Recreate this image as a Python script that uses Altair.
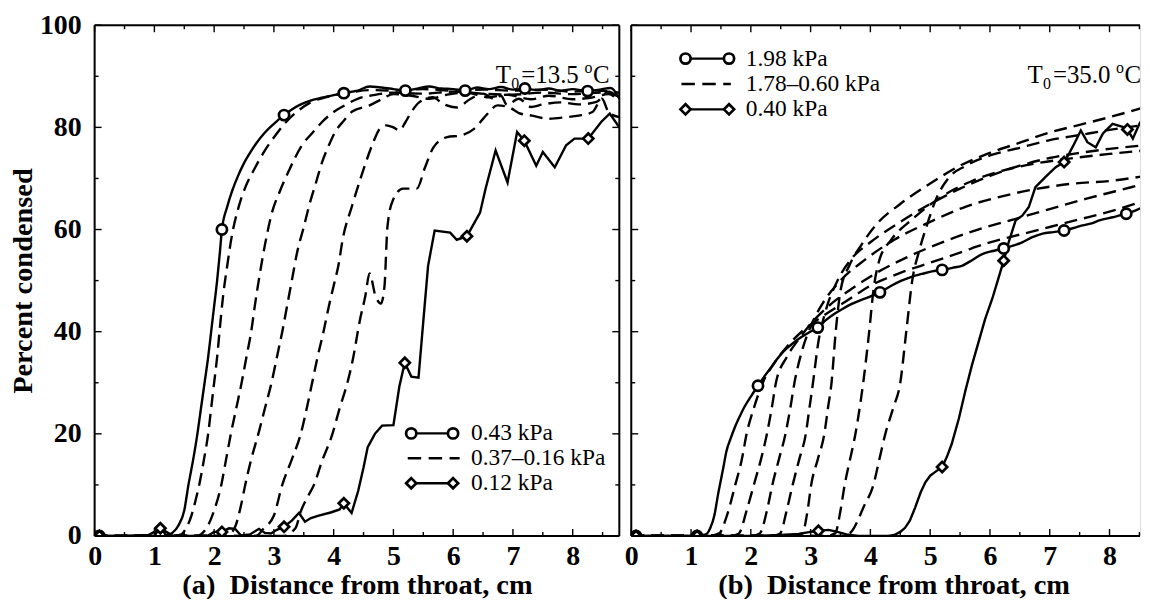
import altair as alt
import pandas as pd

FONT = "Liberation Serif"

# ---------------- data ----------------
X_LABELS = [0, 1, 2, 3, 4, 5, 6, 7, 8]
Y_LABELS = [0, 20, 40, 60, 80, 100]
Y_MINOR = [10, 30, 50, 70, 90]
X_MINOR = [0.5, 1.5, 2.5, 3.5, 4.5, 5.5, 6.5, 7.5, 8.5]

# Panel (a): T0 = 13.5 C
A_C_X = [0, 0.5, 1.0, 1.2, 1.3, 1.4, 1.5, 1.57, 1.65, 1.72, 1.78, 1.84, 1.9, 1.95, 2.0, 2.05, 2.1, 2.13,
         2.22, 2.3, 2.4, 2.5, 2.6, 2.7, 2.85, 3.0, 3.17, 3.3, 3.45, 3.6, 3.8, 4.0, 4.17,
         4.4, 4.6, 4.8, 5.0, 5.2, 5.4, 5.6, 5.8, 6.0, 6.2, 6.4, 6.6, 6.8, 7.0, 7.2, 7.4, 7.6, 7.8, 8.0,
         8.25, 8.45, 8.64, 8.78]
A_C_Y = [0, 0, 0, 0.1, 0.6, 2.0, 5.0, 10, 15, 20, 25, 30, 35, 40, 45, 50, 56, 60,
         64.5, 67.5, 70.5, 73, 75, 76.8, 79, 80.7, 82.4, 83.5, 84.5, 85.2, 85.8, 86.3, 86.7,
         87.2, 88, 87.8, 87.5, 87.2, 87.6, 88, 87.6, 87.5, 87.2, 87.8, 87.5, 87.9, 87.4, 87.6, 87.3, 87.6, 87.2, 87.5,
         87.1, 87.4, 87.7, 85.6]
A_D_X = [0, 0.5, 0.9, 1.0, 1.1, 1.2, 1.3, 1.6, 1.9, 2.0, 2.13, 2.25, 2.35, 2.45, 2.6, 2.75, 2.85, 2.95, 3.05, 3.17,
         3.3, 3.42, 3.52, 3.62, 3.75, 3.95, 4.1, 4.17, 4.3, 4.41, 4.5, 4.57, 4.69, 4.81, 5.0, 5.1, 5.19, 5.3, 5.42, 5.5,
         5.58, 5.69, 5.95, 6.06, 6.23, 6.45, 6.54, 6.71, 6.91, 7.07, 7.19, 7.39, 7.5, 7.7, 7.89, 8.03, 8.26, 8.48, 8.62, 8.78]
A_D_Y = [0, 0, 0.2, 0.8, 1.5, 0.8, 0.1, 0, 0.1, 0.8, 0.8, 1.5, 1.4, 0.1, 0.3, 1.4, 0.6, 0.5, 1.2, 1.8,
         3.0, 4.5, 2.8, 3.5, 4.0, 4.6, 5.2, 6.4, 4.5, 8.8, 13.4, 17.4, 20, 21.6, 21.7, 29.3, 33.9, 31.2, 31, 42,
         52.9, 59.8, 59.4, 58, 58.7, 63.3, 67.9, 75.5, 69.2, 79.1, 77.4, 72.5, 75.2, 72.2, 76.5, 77.8, 77.8, 81.1, 82.7, 80]
A_D1_X = [0, 1.3, 1.45, 1.53, 1.62, 1.69, 1.75, 1.83, 1.9, 1.95, 2.0, 2.05, 2.09, 2.15, 2.22, 2.3, 2.4, 2.53, 2.68, 2.85,
          3.03, 3.2, 3.4, 3.6, 3.9, 4.25, 4.6, 5.0, 5.5, 6.0, 6.5, 7.0, 7.5, 8.0, 8.4, 8.78]
A_D1_Y = [0, 0, 0.3, 1.5, 4, 7, 10, 15, 20, 25, 30, 35, 40, 47, 53, 59, 64, 68.5, 72, 75.5,
          78.5, 81, 83.2, 84.8, 86, 86.8, 87.3, 87.2, 87.5, 87.2, 87.4, 87.2, 87.4, 87, 87.2, 86.8]
A_D2_X = [0, 1.7, 1.87, 2.0, 2.12, 2.2, 2.28, 2.37, 2.46, 2.54, 2.62, 2.68, 2.76, 2.85, 2.97, 3.1, 3.25, 3.47, 3.65, 3.81,
          4.0, 4.2, 4.4, 4.66, 5.0, 5.5, 6.0, 6.5, 7.0, 7.5, 8.0, 8.5, 8.78]
A_D2_Y = [0, 0, 1.5, 5, 10, 15, 20, 25, 30, 35, 40, 45, 51, 57, 63.4, 67.5, 71.5, 76.5, 79, 81.1,
          83, 84.4, 85.6, 86.3, 86.8, 86.6, 87, 86.6, 86.4, 86.8, 86.5, 86.8, 86]
A_D3_X = [0, 2.2, 2.34, 2.45, 2.52, 2.62, 2.74, 2.85, 2.96, 3.05, 3.14, 3.22, 3.3, 3.39, 3.5, 3.59, 3.7, 3.81, 3.92, 4.03,
          4.17, 4.31, 4.6, 4.8, 5.0, 5.3, 5.6, 5.9, 6.2, 6.6, 6.9, 7.3, 7.6, 8.0, 8.3, 8.6, 8.78]
A_D3_Y = [0, 0, 1.5, 6, 10, 15, 20, 25, 30, 35, 40, 45, 50, 55.6, 60.5, 64.7, 69, 73.3, 76.5, 79.2,
          81.3, 83.1, 84.3, 85.5, 86.5, 86.2, 85.6, 86.4, 86.8, 85.9, 86.4, 85.5, 86.2, 85.5, 85.8, 86.5, 85]
A_D4_X = [0, 2.7, 2.83, 3.0, 3.14, 3.3, 3.45, 3.55, 3.64, 3.73, 3.83, 3.92, 4.0, 4.08, 4.15, 4.31, 4.45, 4.54, 4.66, 4.77,
          4.88, 5.0, 5.1, 5.2, 5.3, 5.43, 5.66, 5.83, 6.06, 6.28, 6.5, 6.7, 6.8, 6.9, 7.1, 7.3, 7.5, 7.8, 8.1, 8.4,
          8.6, 8.78]
A_D4_Y = [0, 0, 1.5, 4, 10, 15, 20, 25, 30, 35, 40, 45, 49, 53, 58, 64.7, 70, 73.2, 77, 79.7,
          80.4, 80, 79.4, 81, 83, 84.9, 85.9, 84.6, 83.9, 85.5, 86.6, 85.5, 86.2, 84.4, 85.6, 84, 84.5, 84.9, 84.5, 85,
          87, 85.5]
A_D5_X = [0, 3.15, 3.36, 3.45, 3.58, 3.67, 3.8, 3.98, 4.1, 4.23, 4.32, 4.44, 4.53, 4.6, 4.7, 4.79, 4.85, 4.9, 4.99, 5.16,
          5.39, 5.53, 5.67, 5.9, 6.12, 6.35, 6.57, 6.74, 6.94, 7.1, 7.32, 7.6, 7.89, 8.1, 8.33, 8.49, 8.6, 8.78]
A_D5_Y = [0, 0, 1.5, 4.8, 8, 10, 14.5, 20, 25, 30, 34.5, 42.3, 47, 51.4, 47, 45.5, 48.8, 60.5, 65.7, 68,
          68, 72.2, 76.1, 78.1, 78.4, 79.7, 82.6, 84.3, 83.9, 82.8, 82.3, 81.7, 82, 82.3, 83, 85.6, 83, 82]
A_CM_X = [0.08, 1.1, 2.13, 3.17, 4.17, 5.2, 6.2, 7.2, 8.25]
A_CM_Y = [0, 0, 60, 82.4, 86.7, 87.2, 87.2, 87.6, 87.1]
A_DM_X = [0.08, 1.1, 2.13, 3.17, 4.17, 5.19, 6.23, 7.19, 8.26]
A_DM_Y = [0, 1.5, 0.8, 1.8, 6.4, 33.9, 58.7, 77.4, 77.8]

# Panel (b): T0 = 35.0 C
B_C_X = [0, 0.5, 1.0, 1.1, 1.25, 1.32, 1.39, 1.45, 1.5, 1.55, 1.59, 1.66, 1.73, 1.81, 1.89, 2.0, 2.12, 2.23, 2.34, 2.45,
         2.56, 2.7, 2.84, 2.98, 3.12, 3.26, 3.4, 3.54, 3.68, 3.82, 3.96, 4.16, 4.35, 4.52, 4.7, 4.86, 5.03, 5.2, 5.37, 5.53,
         5.7, 5.87, 6.05, 6.23, 6.4, 6.54, 6.71, 6.88, 7.06, 7.24, 7.4, 7.55, 7.7, 7.83, 8.05, 8.28, 8.45, 8.61]
B_C_Y = [0, 0, 0, 0, 0.3, 1.5, 4, 8, 11, 14, 16.5, 19, 21.2, 23.3, 25.2, 27.3, 29.4, 31.3, 33, 34.8,
         36.3, 37.7, 38.9, 39.9, 40.8, 42.3, 43.5, 44.5, 45.4, 46.1, 46.7, 47.7, 49, 50, 50.8, 51.3, 51.8, 52.1, 52.5, 52.9,
         54, 55.2, 55.8, 56.3, 56.9, 57.5, 58.5, 59.2, 59.5, 59.8, 60.3, 60.8, 61.2, 61.8, 62.4, 63.1, 63.8, 64.7]
B_D_X = [0, 1.0, 1.1, 1.5, 2.0, 2.5, 2.8, 3.0, 3.13, 3.3, 3.45, 3.6, 3.8, 4.0, 4.3, 4.4, 4.5, 4.58, 4.66, 4.75,
         4.84, 4.92, 5.0, 5.08, 5.2, 5.28, 5.36, 5.48, 5.59, 5.7, 5.81, 5.92, 6.04, 6.13, 6.23, 6.32, 6.43, 6.54, 6.65, 6.76,
         6.93, 7.1, 7.24, 7.33, 7.41, 7.52, 7.63, 7.77, 7.89, 8.05, 8.22, 8.3, 8.39, 8.5, 8.64]
B_D_Y = [0, 0, 0, 0, 0, 0.2, 0.4, 0.8, 1, 1.2, 0.8, 0.3, 0, 0, 0, 0.2, 0.8, 1.6, 3, 5.6,
         8.5, 10.5, 11.8, 12.5, 13.5, 15.5, 18, 23, 28.5, 33.5, 38, 42.5, 46.5, 50, 53.9, 57.8, 61.8, 62.7, 64.4, 68.3,
         70.3, 72.2, 73.2, 75, 76.8, 79.4, 77.1, 76.1, 78.8, 80.7, 80.1, 79.6, 77.8, 80.7, 83.3]
B_R1_X = [0, 1.3, 1.47, 1.6, 1.74, 1.85, 1.93, 2.05, 2.2, 2.4, 2.6, 2.9, 3.2, 3.6, 4.0, 4.5, 5.0, 5.5, 6.0, 6.5, 7.0, 7.5, 8.0, 8.6]
B_R1_Y = [0, 0, 0.5, 4, 10, 15, 20, 25, 30, 34, 37, 40.5, 43, 46, 49, 51.5, 53.5, 55.5, 57.5, 59, 60.5, 62, 63.5, 65.7]
B_R2_X = [0, 1.65, 1.8, 1.93, 2.05, 2.17, 2.27, 2.35, 2.42, 2.6, 2.8, 3.0, 3.3, 3.7, 4.1, 4.6, 5.2, 5.8, 6.4, 7.0, 7.6, 8.1, 8.6]
B_R2_Y = [0, 0, 0.5, 5, 10, 15, 20, 25, 30, 35, 38.5, 41.5, 45, 48.5, 51.5, 54.5, 57.5, 60, 62, 64, 66, 67.5, 69]
B_R3_X = [0, 2.0, 2.15, 2.27, 2.36, 2.47, 2.58, 2.66, 2.73, 2.85, 3.0, 3.2, 3.5, 3.9, 4.4, 5.0, 5.6, 6.2, 6.8, 7.4, 8.0, 8.6]
B_R3_Y = [0, 0, 0.5, 5, 10, 15, 20, 25, 30, 36, 41, 45.5, 50, 54, 58, 61.5, 64.5, 66.5, 68, 69, 69.5, 70.5]
B_R4_X = [0, 2.35, 2.49, 2.6, 2.7, 2.81, 2.92, 2.98, 3.04, 3.13, 3.25, 3.45, 3.7, 4.0, 4.5, 5.0, 5.5, 6.0, 6.5, 7.0, 7.5, 8.0, 8.6]
B_R4_Y = [0, 0, 0.5, 5, 10, 15, 20, 25, 30, 38, 44, 50, 54.5, 57.5, 61.5, 65, 68, 70.5, 72.5, 74, 75, 75.8, 76.5]
B_R5_X = [0, 2.7, 2.86, 2.95, 3.01, 3.12, 3.23, 3.29, 3.35, 3.42, 3.5, 3.65, 3.85, 4.1, 4.5, 5.0, 5.5, 6.0, 6.5, 7.0, 7.5, 8.0, 8.6]
B_R5_Y = [0, 0, 0.5, 5, 10, 15, 20, 25, 30, 40, 48, 53, 57, 61, 65, 69, 72.5, 75, 77, 79, 80.5, 82, 84]
B_R6_X = [0, 3.25, 3.41, 3.5, 3.57, 3.66, 3.75, 3.82, 3.88, 3.98, 4.05, 4.15, 4.35, 4.7, 5.2, 5.7, 6.2, 6.8, 7.4, 8.0, 8.6]
B_R6_Y = [0, 0, 0.5, 5, 10, 15, 20, 25, 30, 40, 48, 54, 58, 62, 66.5, 69.5, 71.5, 73, 74, 74.8, 75.5]
B_R7_X = [0, 3.5, 3.65, 3.9, 4.05, 4.15, 4.25, 4.38, 4.5, 4.6, 4.7, 4.82, 4.95, 5.1, 5.3, 5.6, 6.0, 6.5, 7.0, 7.5, 8.0, 8.6]
B_R7_Y = [0, 0, 0.5, 6, 10, 15, 20, 25, 30, 40, 50, 56, 61, 66, 70, 72.5, 74.5, 76, 77.5, 78.5, 79.5, 80.5]
B_CM_X = [0.08, 1.1, 2.12, 3.12, 4.16, 5.2, 6.23, 7.24, 8.28]
B_CM_Y = [0, 0, 29.4, 40.8, 47.7, 52.1, 56.3, 59.8, 63.1]
B_DM_X = [0.08, 1.1, 3.13, 5.2, 6.23, 7.24, 8.3]
B_DM_Y = [0, 0, 1, 13.5, 53.9, 73.2, 79.6]

A_LEGEND = ["0.43 kPa", "0.37\u20130.16 kPa", "0.12 kPa"]
B_LEGEND = ["1.98 kPa", "1.78\u20130.60 kPa", "0.40 kPa"]
A_T0 = "=13.5"
B_T0 = "=35.0"
A_TITLE = "(a)\u00a0 Distance from throat, cm"
B_TITLE = "(b)\u00a0 Distance from throat, cm"
Y_TITLE = "Percent condensed"


def frame(pairs):
    rows = []
    for name, xs, ys in pairs:
        if len(xs) != len(ys):
            raise ValueError(f"length mismatch in {name}: {len(xs)} vs {len(ys)}")
        for a, b in zip(xs, ys):
            rows.append({"s": name, "x": a, "y": b})
    return pd.DataFrame(rows)


# ---------------- layout / style ----------------
H = 513
W_L, W_R = 527, 511
XMAX_L = 8.78
XMAX_R = 8.51
ONE = pd.DataFrame({"k": [0]})
LW = 2.4
DASH = [13, 7]
MSIZE = 105
MSW = 2.7
TICK_FS = 28
TITLE_FS = 28.5
LEG_FS = 23.5
T_FS = 25


def panel(W, xmax, circ, diam, dashed, cm, dm, legend, leg_pos, t0, t0x, title, show_y, right_side):
    xs = alt.Scale(domain=[0, xmax], nice=False, zero=False)
    ys = alt.Scale(domain=[0, 100], nice=False, zero=False)
    xaxis = alt.Axis(values=X_LABELS, title=title, grid=False, domain=False, ticks=False, tickSize=0,
                     labelFlush=False, labelOverlap=False, labelFont=FONT, labelFontSize=TICK_FS,
                     labelFontWeight="bold", labelColor="black", labelPadding=7,
                     titleFont=FONT, titleFontSize=TITLE_FS, titleFontWeight="bold", titleColor="black",
                     titlePadding=0, titleX=263.5)
    if show_y:
        yaxis = alt.Axis(values=Y_LABELS, title=Y_TITLE, grid=False, domain=False, ticks=False, tickSize=0,
                         labelFlush=False, labelOverlap=False, labelFont=FONT, labelFontSize=TICK_FS,
                         labelFontWeight="bold", labelColor="black", labelPadding=13.5,
                         titleFont=FONT, titleFontSize=TITLE_FS, titleFontWeight="bold", titleColor="black",
                         titlePadding=2)
    else:
        yaxis = None
    X = alt.X("x:Q", scale=xs, axis=xaxis)
    Y = alt.Y("y:Q", scale=ys, axis=yaxis)

    layers = []
    layers.append(alt.Chart(frame(dashed)).mark_line(color="black", strokeWidth=LW, strokeDash=DASH,
                                                       interpolate="monotone", clip=True)
                  .encode(x=X, y=Y, detail="s:N"))
    layers.append(alt.Chart(frame([circ])).mark_line(color="black", strokeWidth=LW, interpolate="monotone",
                                                     clip=True).encode(x=X, y=Y))
    layers.append(alt.Chart(frame([diam])).mark_line(color="black", strokeWidth=LW, clip=True)
                  .encode(x=X, y=Y))
    layers.append(alt.Chart(frame([cm])).mark_point(shape="circle", size=MSIZE, filled=True, fill="white",
                                                    stroke="black", strokeWidth=MSW, opacity=1, clip=True)
                  .encode(x=X, y=Y))
    layers.append(alt.Chart(frame([dm])).mark_point(shape="diamond", size=MSIZE, filled=True, fill="white",
                                                    stroke="black", strokeWidth=MSW, opacity=1, clip=True)
                  .encode(x=X, y=Y))

    # inward ticks
    xmaj = pd.DataFrame({"x": X_LABELS})
    xmin = pd.DataFrame({"x": [v for v in X_MINOR if v <= xmax]})
    ymaj = pd.DataFrame({"y": Y_LABELS})
    ymin = pd.DataFrame({"y": Y_MINOR})
    tk = dict(color="black", strokeWidth=1.4)
    for d, ln in ((xmaj, 7), (xmin, 4)):
        layers.append(alt.Chart(d).mark_rule(**tk).encode(x=X, y=alt.value(H), y2=alt.value(H - ln)))
        layers.append(alt.Chart(d).mark_rule(**tk).encode(x=X, y=alt.value(0), y2=alt.value(ln)))
    for d, ln in ((ymaj, 7), (ymin, 4)):
        layers.append(alt.Chart(d).mark_rule(**tk).encode(y=Y, x=alt.value(0), x2=alt.value(ln)))
        if right_side:
            layers.append(alt.Chart(d).mark_rule(**tk).encode(y=Y, x=alt.value(W), x2=alt.value(W - ln)))

    # frame
    fr = dict(color="black", strokeWidth=2)
    layers.append(alt.Chart(ONE).mark_rule(**fr).encode(x=alt.value(0), x2=alt.value(W), y=alt.value(0)))
    layers.append(alt.Chart(ONE).mark_rule(**fr).encode(x=alt.value(0), x2=alt.value(W), y=alt.value(H)))
    layers.append(alt.Chart(ONE).mark_rule(**fr).encode(x=alt.value(0), y=alt.value(0), y2=alt.value(H)))
    if right_side:
        layers.append(alt.Chart(ONE).mark_rule(**fr).encode(x=alt.value(W), y=alt.value(0), y2=alt.value(H)))

    # legend
    x1, x2, tx, y0, dy, dx1, dx2 = leg_pos
    rows = [y0, y0 + dy, y0 + 2 * dy]
    layers.append(alt.Chart(ONE).mark_rule(color="black", strokeWidth=LW, clip=True)
                  .encode(x=alt.value(x1), x2=alt.value(x2), y=alt.value(rows[0])))
    layers.append(alt.Chart(ONE).mark_rule(color="black", strokeWidth=LW, strokeDash=[13.5, 7.5], clip=True)
                  .encode(x=alt.value(dx1), x2=alt.value(dx2), y=alt.value(rows[1])))
    layers.append(alt.Chart(ONE).mark_rule(color="black", strokeWidth=LW, clip=True)
                  .encode(x=alt.value(x1), x2=alt.value(x2), y=alt.value(rows[2])))
    for shape, ry in (("circle", rows[0]), ("diamond", rows[2])):
        for px in (x1, x2):
            layers.append(alt.Chart(ONE).mark_point(shape=shape, size=MSIZE, filled=True, fill="white",
                                                    stroke="black", strokeWidth=MSW, opacity=1, clip=True)
                          .encode(x=alt.value(px), y=alt.value(ry)))
    for lab, ry in zip(legend, rows):
        layers.append(alt.Chart(ONE).mark_text(align="left", baseline="middle", font=FONT, fontSize=LEG_FS,
                                               color="black", clip=True)
                      .encode(x=alt.value(tx), y=alt.value(ry), text=alt.value(lab)))

    # T0 label
    ty0 = 58.5
    pieces = [("T", 0, 0, T_FS), ("0", 15.5, 6, 16), (t0, 25.5, 0, T_FS), ("o", 89, -11, 16), ("C", 97.5, 0, T_FS)]
    for txt, ox, oy, fs in pieces:
        layers.append(alt.Chart(ONE).mark_text(align="left", baseline="alphabetic", font=FONT, fontSize=fs,
                                               color="black", clip=True)
                      .encode(x=alt.value(t0x + ox), y=alt.value(ty0 + oy), text=alt.value(txt)))

    return alt.layer(*layers).properties(width=W, height=H)


left = panel(W_L, XMAX_L,
             ("c", A_C_X, A_C_Y), ("d", A_D_X, A_D_Y),
             [("d1", A_D1_X, A_D1_Y), ("d2", A_D2_X, A_D2_Y), ("d3", A_D3_X, A_D3_Y),
              ("d4", A_D4_X, A_D4_Y), ("d5", A_D5_X, A_D5_Y)],
             ("cm", A_CM_X, A_CM_Y), ("dm", A_DM_X, A_DM_Y),
             A_LEGEND, (318, 360, 378, 410, 25, 314.5, 366.6), A_T0, 403, A_TITLE, True, True)

right = panel(W_R, XMAX_R,
              ("c", B_C_X, B_C_Y), ("d", B_D_X, B_D_Y),
              [("r1", B_R1_X, B_R1_Y), ("r2", B_R2_X, B_R2_Y), ("r3", B_R3_X, B_R3_Y), ("r4", B_R4_X, B_R4_Y),
               ("r5", B_R5_X, B_R5_Y), ("r6", B_R6_X, B_R6_Y), ("r7", B_R7_X, B_R7_Y)],
              ("cm", B_CM_X, B_CM_Y), ("dm", B_DM_X, B_DM_Y),
              B_LEGEND, (54.5, 98.2, 115, 33.5, 25.5, 50.4, 100), B_T0, 398, B_TITLE, False, False)

chart = alt.hconcat(left, right, spacing=12, bounds="flush").properties(
    padding={"left": 0, "top": 1, "right": 0, "bottom": -2}
).configure_view(stroke=None).configure(font=FONT)

chart.save("out.html", embed_options={"renderer": "svg", "actions": False})
